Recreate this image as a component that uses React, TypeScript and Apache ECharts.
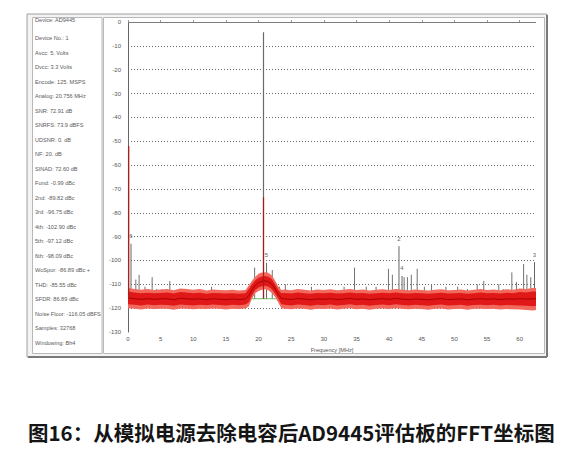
import React, { useEffect, useRef } from "react";
import * as echarts from "echarts";

// Measurement summary shown in the left-hand panel
const infoLines = [
  "Device: AD9445",
  "Device No.: 1",
  "Avcc: 5. Volts",
  "Dvcc: 3.3 Volts",
  "Encode: 125. MSPS",
  "Analog: 20.756 MHz",
  "SNR: 72.91 dB",
  "SNRFS: 73.9 dBFS",
  "UDSNR: 0. dB",
  "NF: 20. dB",
  "SINAD: 72.60 dB",
  "Fund: -0.99 dBc",
  "2nd: -89.82 dBc",
  "3rd: -96.75 dBc",
  "4th: -102.90 dBc",
  "5th: -97.12 dBc",
  "6th: -98.09 dBc",
  "WoSpur: -86.89 dBc +",
  "THD: -85.55 dBc",
  "SFDR: 86.89 dBc",
  "Noise Floor: -116.05 dBFS",
  "Samples: 32768",
  "Windowing: Bh4",
];

const titleText = "图16：从模拟电源去除电容后AD9445评估板的FFT坐标图";
const xAxisName = "Frequency [MHz]";

// Noise-floor band envelope (MHz, dBFS)
const bandFreq = [
  0, 1, 2, 3, 4, 5, 6, 7, 8, 9, 10, 11, 12, 13, 14, 15, 16, 17, 18,
  18.5, 19, 19.5, 20, 20.5, 21, 21.5, 22, 22.5, 23, 23.5,
  24, 25, 26, 27, 28, 29, 30, 31, 32, 33, 34, 35, 36, 37, 38, 39, 40, 41, 42, 43,
  44, 45, 46, 47, 48, 49, 50, 51, 52, 53, 54, 55, 56, 57, 58, 59, 60, 61, 62, 62.5,
];
const outerUpper = [
  -111.5, -112, -112.3, -112, -112.4, -112.2, -112, -112.5, -111.8, -112, -112.3, -112, -112.6, -112.2, -112.4, -112.5, -112.3, -112.6, -112.4,
  -110.5, -108.5, -106.8, -105.6, -105.1, -104.9, -105.2, -106.2, -108.3, -110.8, -112.4,
  -112.2, -112.5, -112, -112.3, -112.6, -112.2, -112.4, -112.1, -112.5, -112.3, -112, -112.4, -112.2, -112.6, -112.3, -112.1, -112.4, -112, -112.3, -112.5,
  -112.2, -112.4, -112.6, -112.3, -112.1, -112.5, -112.4, -112.2, -112.6, -112.3, -112, -112.4, -112.2, -112.5, -112.1, -112.3, -111.8, -112, -111.6, -111.5,
];
const innerUpper = [
  -113, -113.4, -113.7, -113.5, -113.8, -113.6, -113.4, -113.9, -113.2, -113.4, -113.7, -113.5, -114, -113.6, -113.8, -113.9, -113.7, -114, -113.8,
  -112, -110, -108.3, -107.2, -106.7, -106.5, -106.8, -107.8, -109.8, -112.3, -113.7,
  -113.6, -113.9, -113.4, -113.7, -114, -113.6, -113.8, -113.5, -113.9, -113.7, -113.4, -113.8, -113.6, -114, -113.7, -113.5, -113.8, -113.4, -113.7, -113.9,
  -113.6, -113.8, -114, -113.7, -113.5, -113.9, -113.8, -113.6, -114, -113.7, -113.4, -113.8, -113.6, -113.9, -113.5, -113.7, -113.2, -113.4, -113, -113,
];
const innerLower = [
  -118.4, -118.6, -118.9, -118.5, -118.8, -118.6, -118.7, -119, -118.5, -118.7, -118.9, -118.6, -118.8, -118.5, -118.7, -118.9, -118.6, -118.8, -118.5,
  -117.5, -114.6, -112.4, -111.3, -110.8, -110.6, -111, -112, -113.8, -116, -118.4,
  -118.6, -118.9, -118.5, -118.7, -119, -118.6, -118.8, -118.5, -118.9, -118.7, -118.4, -118.8, -118.6, -119, -118.7, -118.5, -118.8, -118.4, -118.7, -118.9,
  -118.6, -118.8, -119, -118.7, -118.5, -118.9, -118.8, -118.6, -119, -118.7, -118.6, -118.8, -118.6, -118.9, -118.7, -118.8, -118.9, -119, -119.2, -119,
];
const outerLower = [
  -120, -120.2, -120.6, -120.1, -120.4, -120.2, -120.3, -120.7, -120.1, -120.3, -120.5, -120.2, -120.4, -120.1, -120.3, -120.6, -120.2, -120.4, -120.1,
  -119.3, -116, -113.8, -112.8, -112.3, -112.1, -112.5, -113.5, -115.2, -117.5, -120,
  -120.2, -120.5, -120.1, -120.3, -120.7, -120.2, -120.4, -120.1, -120.6, -120.3, -120, -120.5, -120.2, -120.7, -120.3, -120.1, -120.4, -120, -120.3, -120.5,
  -120.2, -120.4, -120.7, -120.3, -120.1, -120.6, -120.4, -120.2, -120.7, -120.3, -120.2, -120.4, -120.3, -120.6, -120.4, -120.5, -120.6, -120.8, -121, -120.8,
];

// Noise floor reference level (dBFS)
const noiseFloor = -116.05;

// Spurious tones (MHz, peak dBFS)
const spurFreq = [
  1.2, 1.7, 2.6, 3.7, 4.4, 5.2, 6.4, 8.0, 12.8, 16.0, 19.4, 22.1, 23.2, 24.1, 26.7, 28.1,
  31.5, 33.1, 34.7, 36.5, 38.0, 39.9, 40.5, 42.3, 42.8, 43.4, 44.3, 45.4, 46.5, 48.7,
  50.5, 52.0, 53.5, 54.5, 56.8, 57.5, 58.8, 59.5, 60.6, 61.1, 61.7,
];
const spurPeak = [
  -108, -106, -111, -107, -112, -112, -108.6, -112.5, -111, -112.5, -103, -104, -111, -110, -113, -111,
  -112.5, -111, -103, -111, -111, -103.5, -106, -107, -107, -106, -103.5, -111, -110, -111,
  -111, -112, -110, -108.6, -110, -112, -105, -109, -101.5, -106, -107,
];

// Harmonics, numbered as in the analyser readout
const harmonicLabel = ["2", "3", "4", "5", "6"];
const harmonicFreq = [41.51, 62.27, 41.98, 21.22, 0.46];
const harmonicPeak = [-94, -100.7, -106.5, -101, -93];

// Fundamental and DC bin
const fundamentalFreq = 20.756;
const fundamentalPeak = -4.3;
const fundamentalTracePeak = -73.5;
const dcFreq = 0.1;
const dcPeak = -52;

const SPIKE_BASE = -116;
const FONT = '"Liberation Sans", "DejaVu Sans", sans-serif';

function spikeSeries(name: string, data: number[][], color: string, width: number, z: number) {
  return {
    name,
    type: "custom",
    z,
    encode: { x: 0, y: 1 },
    data,
    renderItem: (_p: any, api: any) => {
      const top = api.coord([api.value(0), api.value(1)]);
      const bottom = api.coord([api.value(0), SPIKE_BASE]);
      return {
        type: "line",
        shape: { x1: top[0], y1: top[1], x2: bottom[0], y2: bottom[1] },
        style: { stroke: color, lineWidth: width },
      };
    },
  };
}

export default function App() {
  const ref = useRef<HTMLDivElement>(null);

  useEffect(() => {
    if (!ref.current) return;
    const chart = echarts.init(ref.current, null, { renderer: "svg" });

    const spurData = spurFreq.map((f, i) => [f, spurPeak[i]]);
    const harmonicData = harmonicFreq.map((f, i) => [f, harmonicPeak[i]]);

    const infoTexts = infoLines.map((t, i) => ({
      type: "text",
      z: 10,
      style: {
        text: t,
        x: 35,
        y: i === 0 ? 20 : 38 + (i - 1) * 14.5,
        font: `5.6px ${FONT}`,
        fill: "#5a5a5a",
        verticalAlign: "middle",
      },
    }));

    const option: any = {
      animation: false,
      backgroundColor: "#ffffff",
      grid: { left: 128, top: 22, width: 408, height: 310 },
      xAxis: {
        type: "value",
        min: 0,
        max: 62.5,
        interval: 5,
        name: xAxisName,
        nameLocation: "middle",
        nameGap: 11,
        nameTextStyle: { fontSize: 5.6, color: "#555", fontFamily: FONT },
        axisLine: { show: false },
        axisTick: { show: true, inside: true, length: 2, lineStyle: { color: "#999" } },
        axisLabel: { fontSize: 6, color: "#555", margin: 4, fontFamily: FONT, showMaxLabel: false },
        splitLine: { show: false },
      },
      yAxis: {
        type: "value",
        min: -130,
        max: 0,
        interval: 10,
        axisLine: { show: true, lineStyle: { color: "#666", width: 1 } },
        axisTick: { show: false },
        axisLabel: { fontSize: 6, color: "#555", margin: 7, fontFamily: FONT },
        splitLine: {
          show: true,
          showMinLine: false,
          showMaxLine: false,
          lineStyle: { color: "#666", width: 1, type: [1, 2] },
        },
      },
      graphic: [
        // analyser window frame
        { type: "rect", z: -10, shape: { x: 27, y: 14, width: 520, height: 343 }, style: { fill: "#f3f3f3", stroke: "#a0a0a0", lineWidth: 1 } },
        { type: "line", z: -9, shape: { x1: 547, y1: 15, x2: 547, y2: 357 }, style: { stroke: "#7a7a7a", lineWidth: 2 } },
        { type: "line", z: -9, shape: { x1: 28, y1: 357, x2: 547, y2: 357 }, style: { stroke: "#7a7a7a", lineWidth: 2 } },
        { type: "rect", z: -9, shape: { x: 32.5, y: 17.5, width: 69.5, height: 336 }, style: { fill: "#ffffff", stroke: "#b8b8b8", lineWidth: 1 } },
        { type: "rect", z: -9, shape: { x: 103.5, y: 17.5, width: 441, height: 336 }, style: { fill: "#ffffff", stroke: "#b8b8b8", lineWidth: 1 } },
        // plot top border
        { type: "line", z: 5, shape: { x1: 128, y1: 22.5, x2: 536, y2: 22.5 }, style: { stroke: "#7d7d7d", lineWidth: 1 } },
        ...infoTexts,
        {
          type: "text",
          z: 10,
          style: {
            text: titleText,
            x: 28,
            y: 432,
            font: `bold 20.5px "Noto Sans CJK SC", sans-serif`,
            fill: "#151515",
            verticalAlign: "middle",
          },
        },
      ],
      series: [
        {
          name: "noise floor",
          type: "line",
          z: 1,
          data: [
            [0, noiseFloor],
            [62.5, noiseFloor],
          ],
          symbol: "none",
          lineStyle: { color: "#62c462", width: 1 },
        },
        spikeSeries("spurs", spurData, "#727272", 1, 2),
        spikeSeries("harmonics", harmonicData, "#666666", 1, 2),
        spikeSeries("fundamental", [[fundamentalFreq, fundamentalPeak]], "#6a6a6a", 1.2, 2),
        {
          name: "FFT",
          type: "custom",
          z: 3,
          data: [[0, SPIKE_BASE]],
          encode: { x: 0, y: 1 },
          renderItem: (_p: any, api: any) => {
            const pt = (f: number, v: number) => api.coord([f, v]);
            const band = (up: number[], lo: number[]) => [
              ...bandFreq.map((f, i) => pt(f, up[i])),
              ...bandFreq.map((f, i) => pt(f, lo[i])).reverse(),
            ];
            const mid = bandFreq.map((f, i) => pt(f, (innerUpper[i] + innerLower[i]) / 2));
            return {
              type: "group",
              children: [
                { type: "polygon", shape: { points: band(outerUpper, outerLower) }, style: { fill: "#f26a5e" } },
                { type: "polygon", shape: { points: band(innerUpper, innerLower) }, style: { fill: "#e01818" } },
                { type: "polyline", shape: { points: mid }, style: { stroke: "#a80000", lineWidth: 1, fill: "none" } },
              ],
            };
          },
        },
        spikeSeries("fundamental trace", [[fundamentalFreq, fundamentalTracePeak]], "#b01818", 1.2, 4),
        spikeSeries("dc", [[dcFreq, dcPeak]], "#a82020", 1.4, 4),
        {
          name: "markers",
          type: "scatter",
          z: 6,
          symbolSize: 1,
          itemStyle: { color: "rgba(0,0,0,0)" },
          data: harmonicData.map((d, i) => ({ value: d, name: harmonicLabel[i] })),
          label: {
            show: true,
            position: "top",
            distance: 4,
            formatter: (p: any) => p.name,
            fontSize: 6,
            color: "#333",
            fontFamily: FONT,
          },
        },
      ],
    };

    chart.setOption(option);
    return () => chart.dispose();
  }, []);

  return (
    <div
      ref={ref}
      style={{ position: "fixed", left: 0, top: 0, width: 580, height: 470 }}
    />
  );
}
